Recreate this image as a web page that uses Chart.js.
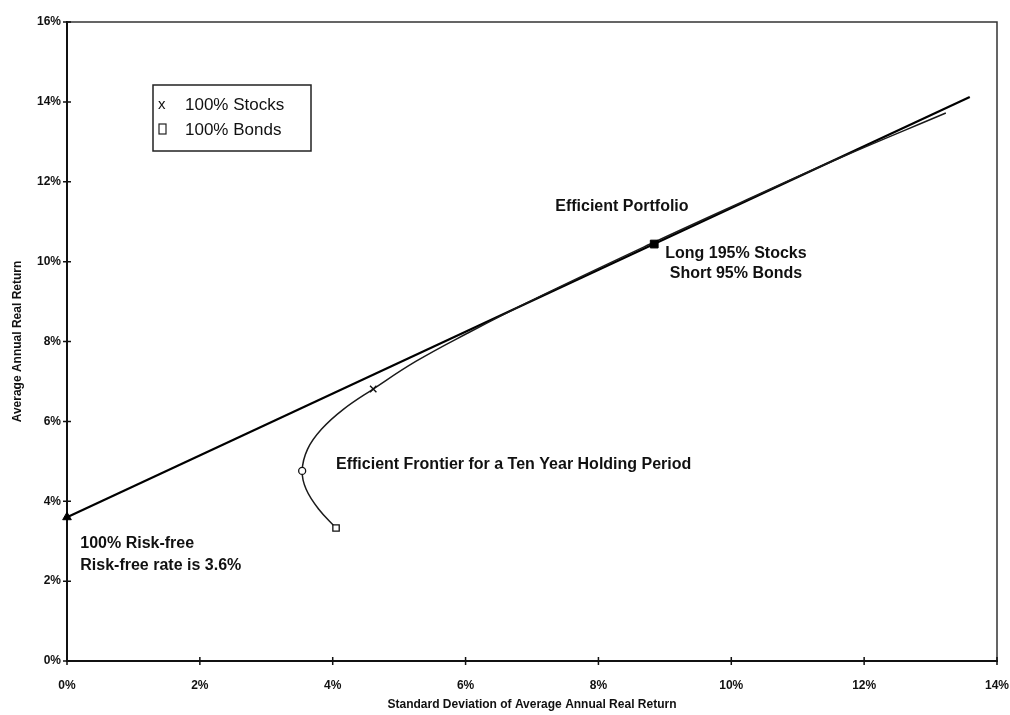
<!DOCTYPE html>
<html>
<head>
<meta charset="utf-8">
<script src="https://cdn.jsdelivr.net/npm/chart.js@4.4.1/dist/chart.umd.min.js"></script>
<style>
  html, body { margin: 0; padding: 0; background: #fff; }
  #wrap { width: 1010px; height: 715px; }
</style>
</head>
<body>
<div id="wrap"><canvas id="c" width="1010" height="715"></canvas></div>
<script>
// ---- data ----
const xTickValues = [0, 2, 4, 6, 8, 10, 12, 14];
const yTickValues = [0, 2, 4, 6, 8, 10, 12, 14, 16];

// Capital market line (std dev %, return %)
const cmlX = [0, 13.59];
const cmlY = [3.6, 14.12];

// Efficient frontier, ten-year holding period
const frontierX = [4.05, 3.79, 3.60, 3.54, 3.62, 3.83, 4.16, 4.61, 5.25, 6.02, 6.96, 8.78, 10.17, 11.64, 13.23];
const frontierY = [3.33, 3.80, 4.30, 4.76, 5.30, 5.80, 6.30, 6.81, 7.50, 8.20, 9.00, 10.44, 11.50, 12.60, 13.72];

// Highlighted portfolios
const riskFree = [0, 3.6];
const efficientPortfolio = [8.84, 10.44];
const bondsPoint = [4.05, 3.33];
const minVarPoint = [3.54, 4.76];
const stocksPoint = [4.61, 6.81];

const xTitle = 'Standard Deviation of Average Annual Real Return';
const yTitle = 'Average Annual Real Return';
const legendItems = [['x', '100% Stocks'], ['\u25A1', '100% Bonds']];

const annotations = [
  { x: 7.35, y: 11.37, align: 'left', gap: 20, lines: ['Efficient Portfolio'] },
  { x: 10.07, y: 10.19, align: 'center', gap: 20, lines: ['Long 195% Stocks', 'Short 95% Bonds'] },
  { x: 4.05, y: 4.93, align: 'left', gap: 20, lines: ['Efficient Frontier for a Ten Year Holding Period'] },
  { x: 0.2, y: 2.93, align: 'left', gap: 22, lines: ['100% Risk-free', 'Risk-free rate is 3.6%'] }
];

const toPts = (xs, ys) => xs.map((x, i) => ({ x: x, y: ys[i] }));
const pt = p => [{ x: p[0], y: p[1] }];

const FONT = '"Liberation Sans", Arial, sans-serif';

const decor = {
  id: 'decor',
  afterDraw(chart) {
    const ctx = chart.ctx;
    const a = chart.chartArea;
    const xs = chart.scales.x, ys = chart.scales.y;
    ctx.save();
    // top and right frame
    ctx.strokeStyle = '#333';
    ctx.lineWidth = 1.5;
    ctx.beginPath();
    ctx.moveTo(a.left, a.top);
    ctx.lineTo(a.right, a.top);
    ctx.lineTo(a.right, a.bottom);
    ctx.stroke();
    // tick marks crossing the axes
    ctx.strokeStyle = '#111';
    ctx.lineWidth = 1.5;
    ctx.beginPath();
    xTickValues.forEach(v => {
      const px = xs.getPixelForValue(v);
      ctx.moveTo(px, a.bottom + 4); ctx.lineTo(px, a.bottom - 4);
    });
    yTickValues.forEach(v => {
      const py = ys.getPixelForValue(v);
      ctx.moveTo(a.left - 4, py); ctx.lineTo(a.left + 4, py);
    });
    ctx.stroke();

    // annotations
    ctx.fillStyle = '#111';
    ctx.font = 'bold 16px ' + FONT;
    ctx.textBaseline = 'middle';
    annotations.forEach(an => {
      ctx.textAlign = an.align;
      const px = xs.getPixelForValue(an.x);
      const py = ys.getPixelForValue(an.y);
      an.lines.forEach((t, i) => ctx.fillText(t, px, py + i * an.gap));
    });

    // legend box
    const bx = a.left + 86, by = a.top + 63, bw = 158, bh = 66;
    ctx.strokeStyle = '#222';
    ctx.lineWidth = 1.5;
    ctx.strokeRect(bx, by, bw, bh);
    ctx.font = '17px ' + FONT;
    ctx.textAlign = 'left';
    legendItems.forEach((it, i) => {
      const yy = by + 20 + i * 25;
      ctx.fillText(it[1], bx + 32, yy);
    });
    // legend symbols
    ctx.font = '15px ' + FONT;
    ctx.fillText(legendItems[0][0], bx + 5, by + 20);
    ctx.lineWidth = 1.2;
    ctx.strokeRect(bx + 6, by + 39, 7, 10);
    ctx.restore();
  }
};

const tickFont = { family: FONT, size: 12, weight: 'bold' };
const titleFont = { family: FONT, size: 12, weight: 'bold' };

new Chart(document.getElementById('c'), {
  type: 'scatter',
  data: {
    datasets: [
      { data: pt(riskFree), pointStyle: 'triangle', pointRadius: 5, backgroundColor: '#000', borderColor: '#000', borderWidth: 1 },
      { data: pt(efficientPortfolio), pointStyle: 'rect', pointRadius: 5.5, backgroundColor: '#000', borderColor: '#000', borderWidth: 1 },
      { data: pt(bondsPoint), pointStyle: 'rect', pointRadius: 4.5, backgroundColor: '#fff', borderColor: '#111', borderWidth: 1.3 },
      { data: pt(minVarPoint), pointStyle: 'circle', pointRadius: 3.5, backgroundColor: '#fff', borderColor: '#111', borderWidth: 1.3 },
      { data: pt(stocksPoint), pointStyle: 'crossRot', pointRadius: 4.5, backgroundColor: '#111', borderColor: '#111', borderWidth: 1.4 },
      { data: toPts(frontierX, frontierY), showLine: true, tension: 0.4, pointRadius: 0, borderColor: '#1a1a1a', borderWidth: 1.5, fill: false },
      { data: toPts(cmlX, cmlY), showLine: true, tension: 0, pointRadius: 0, borderColor: '#000', borderWidth: 2.2, fill: false }
    ]
  },
  options: {
    responsive: false,
    animation: false,
    clip: false,
    layout: { padding: { left: 0, right: 13, top: 22, bottom: 0 } },
    plugins: { legend: { display: false }, tooltip: { enabled: false } },
    scales: {
      x: {
        type: 'linear', min: 0, max: 14,
        afterBuildTicks: s => { s.ticks = xTickValues.map(v => ({ value: v })); },
        afterFit: s => { s.height = 54; },
        ticks: { callback: v => v + '%', font: tickFont, color: '#111', padding: 0, maxRotation: 0 },
        grid: { drawOnChartArea: false, tickLength: 17, tickColor: 'rgba(0,0,0,0)' },
        border: { color: '#111', width: 2 },
        title: { display: true, text: xTitle, font: titleFont, color: '#111', padding: { top: 0, bottom: 3 } }
      },
      y: {
        type: 'linear', min: 0, max: 16,
        afterBuildTicks: s => { s.ticks = yTickValues.map(v => ({ value: v })); },
        afterFit: s => { s.width = 67; },
        ticks: { callback: v => v + '%', font: tickFont, color: '#111', padding: 0 },
        grid: { drawOnChartArea: false, tickLength: 6, tickColor: 'rgba(0,0,0,0)' },
        border: { color: '#111', width: 2 },
        title: { display: true, text: yTitle, font: titleFont, color: '#111', padding: { top: 10, bottom: 0 } }
      }
    }
  },
  plugins: [decor]
});
</script>
</body>
</html>
